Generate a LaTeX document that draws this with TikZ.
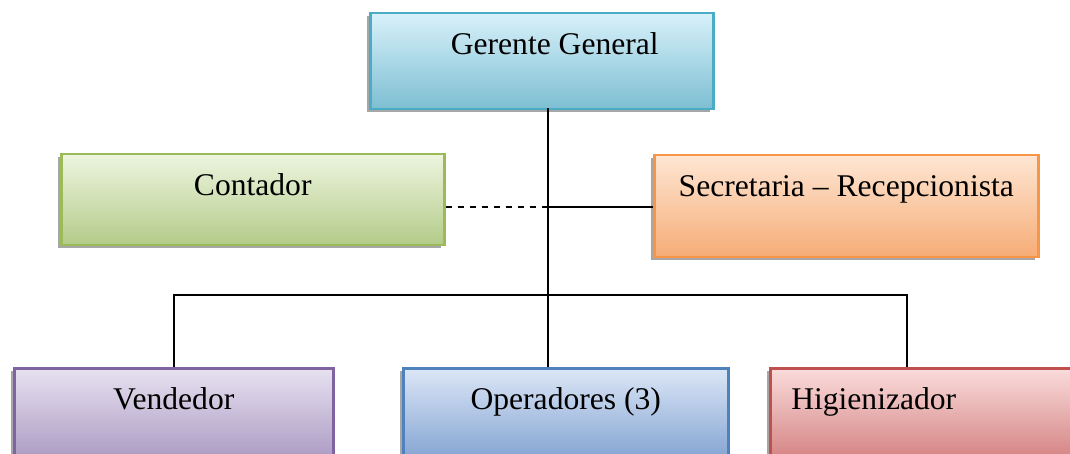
\documentclass[tikz,border=0pt]{standalone}
\usepackage{fontspec}
\setmainfont{Liberation Serif}
\usetikzlibrary{shadows}

% Word-style accent colours: border, light top, dark bottom
\definecolor{tealB}{HTML}{4BACC6}\definecolor{tealT}{HTML}{D8F1FA}\definecolor{tealD}{HTML}{7DBED2}
\definecolor{oliveB}{HTML}{9BBB59}\definecolor{oliveT}{HTML}{EDF5DF}\definecolor{oliveD}{HTML}{B3CB88}
\definecolor{orangeB}{HTML}{F79646}\definecolor{orangeT}{HTML}{FEE6D3}\definecolor{orangeD}{HTML}{F6AC76}
\definecolor{purpleB}{HTML}{8064A2}\definecolor{purpleT}{HTML}{E7E1F0}\definecolor{purpleD}{HTML}{A593BE}
\definecolor{blueB}{HTML}{4F81BD}\definecolor{blueT}{HTML}{DCE6F6}\definecolor{blueD}{HTML}{7A9DCF}
\definecolor{redB}{HTML}{C0504D}\definecolor{redT}{HTML}{FADCDC}\definecolor{redD}{HTML}{D07978}

\tikzset{
  orgbox/.style args={#1/#2/#3}{rectangle, inner sep=0pt, line width=2.5pt,
    draw=#1, top color=#2, bottom color=#3,
    drop shadow={shadow xshift=-3pt, shadow yshift=-3pt, fill=black!35, opacity=1},
    font=\fontsize{31.6}{38}\selectfont, text height=41pt},
  conn/.style={line width=1.5pt, black},
  dashconn/.style={conn, dash pattern=on 6pt off 6pt},
}

\begin{document}
\begin{tikzpicture}[x=1pt, y=-1pt]
  \useasboundingbox (0,0) rectangle (1070,454);
  \clip (0,0) rectangle (1070,454);

  % top level
  \node[orgbox=tealB/tealT/tealD, minimum width=343pt, text depth=55pt, anchor=north west]
    (g) at (369,12) {\hspace*{26pt}Gerente General};

  % staff positions
  \node[orgbox=oliveB/oliveT/oliveD, minimum width=383pt, text depth=50pt, anchor=north west]
    (c) at (60,153) {Contador};
  \node[orgbox=orangeB/orangeT/orangeD, minimum width=384pt, text depth=61pt, anchor=north west]
    (s) at (653,154) {Secretaria -- Recepcionista};

  % operating staff
  \node[orgbox=purpleB/purpleT/purpleD, minimum width=319pt, text depth=60pt, anchor=north west]
    (v) at (13,367) {Vendedor};
  \node[orgbox=blueB/blueT/blueD, minimum width=325pt, text depth=60pt, anchor=north west]
    (o) at (402,367) {Operadores (3)};
  \node[orgbox=redB/redT/redD, text width=290pt, align=left, inner xsep=21pt,
        text depth=60pt, anchor=north west]
    (h) at (769,367) {Higienizador};

  % connector junctions
  \coordinate (trunkTop) at (548,108);
  \coordinate (staffJ) at (548,207);
  \coordinate (barJ) at (548,295);
  \coordinate (barL) at (174,295);
  \coordinate (barR) at (907,295);

  \draw[conn] (trunkTop) -- (o.north -| trunkTop);
  \draw[dashconn] (c.east |- staffJ) -- (staffJ);
  \draw[conn] (staffJ) -- (s.west |- staffJ);
  \draw[conn] (v.north -| barL) -- (barL) -- (barR) -- (h.north -| barR);
\end{tikzpicture}
\end{document}
